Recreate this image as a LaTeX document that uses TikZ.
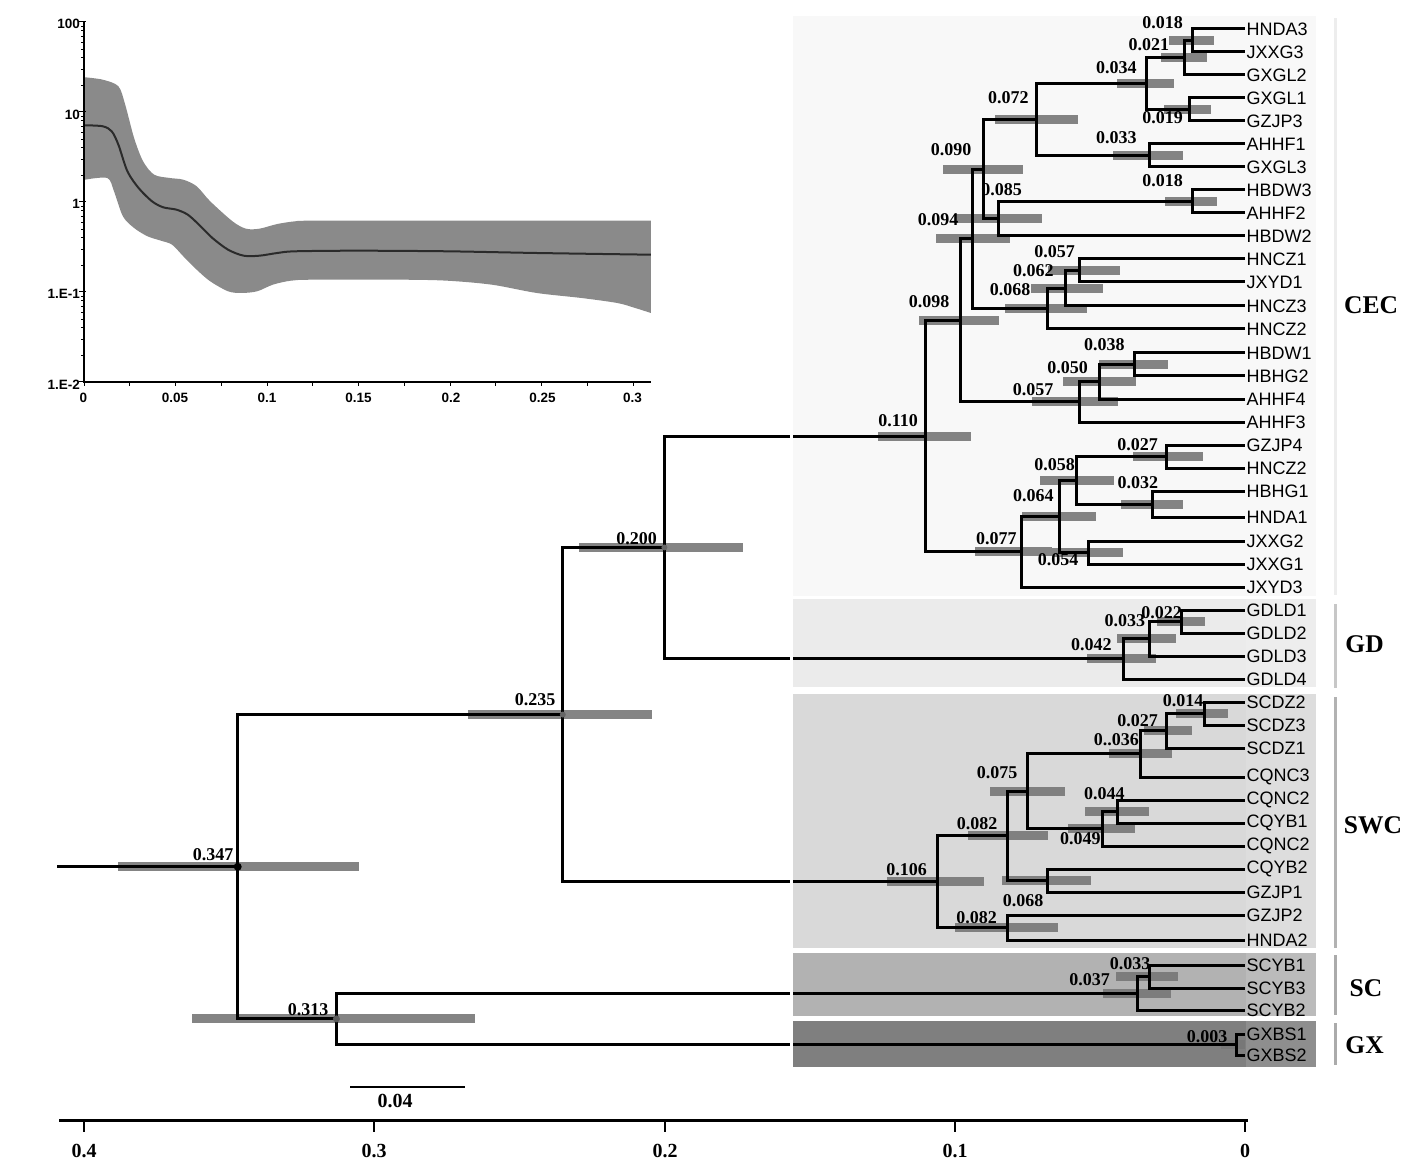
\documentclass[tikz,border=0pt]{standalone}
\usepackage{fontspec}
\setmainfont{Liberation Serif}
\newfontfamily\arialf{Liberation Sans}
\usetikzlibrary{calc}
\definecolor{hpdc}{HTML}{777777}
\definecolor{cecc}{HTML}{F8F8F8}
\definecolor{gdc}{HTML}{EBEBEB}
\definecolor{swcc}{HTML}{D9D9D9}
\definecolor{scc}{HTML}{B2B2B2}
\definecolor{gxc}{HTML}{7F7F7F}
\definecolor{bandc}{HTML}{8A8A8A}
\definecolor{medc}{HTML}{2B2B2B}
\newcommand\brc[2]{\draw[br] (#1) |- (#2);}
\newcommand\hpdbar[3]{\draw[hpd] (#2,0 |- #1) -- (#3,0 |- #1);}
\begin{document}
\begin{tikzpicture}[x=1pt,y=-1pt,
  br/.style={line width=3pt},
  hpd/.style={draw=hpdc, line width=9pt, draw opacity=0.9},
  leaf/.style={anchor=west, inner sep=1.5pt, font=\arialf\fontsize{18}{18}\selectfont},
  age/.style={inner sep=0pt, font=\bfseries\fontsize{18}{18}\selectfont},
  clade/.style={inner sep=0pt, font=\bfseries\fontsize{25.5}{25.5}\selectfont},
  axl/.style={inner sep=0pt, font=\bfseries\fontsize{20}{20}\selectfont},
  inl/.style={inner sep=0pt, font=\arialf\bfseries\fontsize{13.5}{13.5}\selectfont},
  bracket/.style={line width=3pt}
]
\useasboundingbox (0,0) rectangle (1417,1174);

% ---------- clade background boxes ----------
\fill[cecc] (793,16) rectangle (1316,596);
\fill[gdc] (793,599) rectangle (1316,687);
\fill[swcc] (793,694) rectangle (1316,948);
\fill[scc] (793,953) rectangle (1316,1016);
\fill[gxc] (793,1021) rectangle (1316,1067);
\fill[white, opacity=0.12] (1246,16) rectangle (1316,1067);

% ---------- clade brackets ----------
\draw[bracket, draw=black!7] (1335,18) -- (1335,595);
\draw[bracket, draw=black!22] (1335,604) -- (1335,688);
\draw[bracket, draw=black!30] (1335,697) -- (1335,948);
\draw[bracket, draw=black!33] (1335,955) -- (1335,1015);
\draw[bracket, draw=black!33] (1335,1023) -- (1335,1065);

% ---------- inset skyline plot ----------
\fill[bandc] plot[smooth, tension=0.5] coordinates {(85,77.3) (102.8,79.7) (118.4,86.3) (125.2,104.7) (134.1,138) (143.1,161.3) (154.2,174.7) (169.9,178) (183.3,179.7) (196.7,186.3) (210.2,201.3) (232.5,221.3) (246,228.7) (259.4,228.7) (277.3,224) (295.2,221.3) (313.1,220.7) (447.3,220.7) (650.9,220.7)}
 -- plot[smooth, tension=0.5] coordinates {(650.9,313) (635.2,308) (617.3,303) (581.5,298) (536.8,293) (492,284.7) (447.3,280.7) (402.5,279.7) (313.1,279.7) (290.7,280.7) (272.8,284.7) (257.1,291.3) (241.5,293) (228.1,291.3) (210.2,281.3) (196.7,269.7) (183.3,256.3) (172.1,244.7) (161,240.7) (147.5,236.3) (134.1,228) (122.9,216.3) (114,191.3) (107.3,178) (85,179.7)} -- cycle;
\draw[medc, line width=2pt] plot[smooth, tension=0.5] coordinates {(85,125.3) (102.8,126.3) (111.7,131.3) (118.4,144.7) (127.4,171.3) (138.6,188) (152,201.3) (163.2,207.3) (176.6,209.7) (187.8,214.7) (199,224.7) (212.4,238) (228.1,249.7) (243.7,255.7) (259.4,255.7) (277.3,253) (295.2,251.3) (357.8,250.7) (447.3,251.3) (536.8,253) (650.9,254.7)};
\coordinate (iy0) at (84,382);
\coordinate (iy1) at (84,22);
\coordinate (ix1) at (651,382);
\draw[line width=1.5pt] (iy1) -- (iy0) -- (ix1);
\foreach \d in {0,1,2,3} {
  \foreach \m in {2,...,9} {
    \pgfmathsetmacro\yy{382-90*(\d+log10(\m))}
    \draw[line width=0.8pt] (81,\yy) -- (84,\yy);
  }
}
\foreach \d in {0,1,2,3,4} {
  \pgfmathsetmacro\yy{382-90*\d}
  \draw[line width=1pt] (79,\yy) -- (86,\yy);
}
\foreach \i in {0,...,12} {
  \pgfmathsetmacro\xx{84+45.75*\i}
  \draw[line width=1pt] (\xx,382) -- (\xx,386);
}
\node[inl, anchor=east] (iyl100) at (80,24) {100};
\node[inl, anchor=east] (iyl10) at (80,115) {10};
\node[inl, anchor=east] (iyl1) at (80,204) {1};
\node[inl, anchor=east] (iylm1) at (80,294) {1.E-1};
\node[inl, anchor=east] (iylm2) at (80,385) {1.E-2};
\node[inl] (ixl0) at (83.5,398) {0};
\node[inl] (ixl1) at (175,398) {0.05};
\node[inl] (ixl2) at (267,398) {0.1};
\node[inl] (ixl3) at (358.5,398) {0.15};
\node[inl] (ixl4) at (451,398) {0.2};
\node[inl] (ixl5) at (542.4,398) {0.25};
\node[inl] (ixl6) at (632.6,398) {0.3};

% ---------- internal node coordinates (x = 1245 - 2903*age) ----------
\coordinate (n018a) at (1192.7,40.5);
\coordinate (n021) at (1184.0,57.75);
\coordinate (n019) at (1189.8,109.5);
\coordinate (n034) at (1146.3,83.63);
\coordinate (n033a) at (1149.2,155.5);
\coordinate (n072) at (1036.0,119.56);
\coordinate (n018b) at (1192.7,201.5);
\coordinate (n085) at (998.2,218.75);
\coordinate (n090) at (983.7,169.16);
\coordinate (n057a) at (1079.5,270.5);
\coordinate (n062) at (1065.0,288.25);
\coordinate (n068a) at (1047.6,308.63);
\coordinate (n094) at (972.1,238.9);
\coordinate (n038) at (1134.7,364.5);
\coordinate (n050) at (1099.9,381.75);
\coordinate (n057b) at (1079.5,401.88);
\coordinate (n098) at (960.5,320.39);
\coordinate (n027a) at (1166.6,456.5);
\coordinate (n032) at (1152.1,504);
\coordinate (n058) at (1076.6,480.25);
\coordinate (n054) at (1088.2,552.5);
\coordinate (n064) at (1059.2,516.38);
\coordinate (n077) at (1021.5,551.69);
\coordinate (n110) at (925.7,436.04);
\coordinate (n022) at (1181.1,621.5);
\coordinate (n033b) at (1149.2,638.75);
\coordinate (n042) at (1123.1,658.88);
\coordinate (n200) at (664.4,547.46);
\coordinate (n014) at (1204.4,713.5);
\coordinate (n027b) at (1166.6,730.75);
\coordinate (n036) at (1140.5,753.88);
\coordinate (n044) at (1117.3,811.5);
\coordinate (n049) at (1102.8,828.75);
\coordinate (n075) at (1027.3,791.31);
\coordinate (n068b) at (1047.6,880.5);
\coordinate (n082a) at (1007.0,835.9);
\coordinate (n082b) at (1007.0,927.5);
\coordinate (n106) at (937.3,881.7);
\coordinate (n235) at (562.8,714.58);
\coordinate (n033c) at (1149.2,976.5);
\coordinate (n037) at (1137.6,993.25);
\coordinate (n003) at (1236.3,1044.5);
\coordinate (n313) at (336.4,1018.88);
\coordinate (n347) at (237.7,866.73);
\coordinate (root) at (57,866.73);

% ---------- HPD bars ----------
\hpdbar{n347}{118}{359}
\hpdbar{n313}{192}{475}
\hpdbar{n235}{468}{652}
\hpdbar{n200}{579}{743}
\hpdbar{n110}{878}{971}
\hpdbar{n098}{919}{999}
\hpdbar{n094}{936}{1010}
\hpdbar{n090}{943}{1023}
\hpdbar{n085}{954}{1042}
\hpdbar{n072}{995}{1078}
\hpdbar{n034}{1117}{1174}
\hpdbar{n021}{1161}{1207}
\hpdbar{n018a}{1169}{1214}
\hpdbar{n019}{1164}{1211}
\hpdbar{n033a}{1113}{1183}
\hpdbar{n018b}{1165}{1217}
\hpdbar{n068a}{1005}{1087}
\hpdbar{n062}{1031}{1103}
\hpdbar{n057a}{1048}{1120}
\hpdbar{n057b}{1032}{1118}
\hpdbar{n050}{1063}{1136}
\hpdbar{n038}{1099}{1168}
\hpdbar{n077}{975}{1052}
\hpdbar{n064}{1022}{1096}
\hpdbar{n058}{1040}{1114}
\hpdbar{n027a}{1133}{1203}
\hpdbar{n032}{1121}{1183}
\hpdbar{n054}{1052}{1123}
\hpdbar{n042}{1087}{1156}
\hpdbar{n033b}{1117}{1176}
\hpdbar{n022}{1157}{1205}
\hpdbar{n106}{887}{984}
\hpdbar{n082a}{968}{1048}
\hpdbar{n082b}{955}{1058}
\hpdbar{n075}{990}{1065}
\hpdbar{n068b}{1002}{1091}
\hpdbar{n036}{1109}{1172}
\hpdbar{n027b}{1144}{1192}
\hpdbar{n014}{1176}{1228}
\hpdbar{n044}{1085}{1149}
\hpdbar{n049}{1068}{1135}
\hpdbar{n037}{1103}{1171}
\hpdbar{n033c}{1116}{1178}
\hpdbar{n003}{1221}{1245}

% ---------- leaves ----------
\node[leaf] (HNDA3) at (1245,29) {HNDA3};
\node[leaf] (JXXG3) at (1245,52) {JXXG3};
\node[leaf] (GXGL2) at (1245,75) {GXGL2};
\node[leaf] (GXGL1) at (1245,98) {GXGL1};
\node[leaf] (GZJP3) at (1245,121) {GZJP3};
\node[leaf] (AHHF1) at (1245,144) {AHHF1};
\node[leaf] (GXGL3) at (1245,167) {GXGL3};
\node[leaf] (HBDW3) at (1245,190) {HBDW3};
\node[leaf] (AHHF2) at (1245,213) {AHHF2};
\node[leaf] (HBDW2) at (1245,236) {HBDW2};
\node[leaf] (HNCZ1) at (1245,259) {HNCZ1};
\node[leaf] (JXYD1) at (1245,282) {JXYD1};
\node[leaf] (HNCZ3) at (1245,306) {HNCZ3};
\node[leaf] (HNCZ2a) at (1245,329) {HNCZ2};
\node[leaf] (HBDW1) at (1245,353) {HBDW1};
\node[leaf] (HBHG2) at (1245,376) {HBHG2};
\node[leaf] (AHHF4) at (1245,399) {AHHF4};
\node[leaf] (AHHF3) at (1245,422) {AHHF3};
\node[leaf] (GZJP4) at (1245,445) {GZJP4};
\node[leaf] (HNCZ2b) at (1245,468) {HNCZ2};
\node[leaf] (HBHG1) at (1245,491) {HBHG1};
\node[leaf] (HNDA1) at (1245,517) {HNDA1};
\node[leaf] (JXXG2) at (1245,541) {JXXG2};
\node[leaf] (JXXG1) at (1245,564) {JXXG1};
\node[leaf] (JXYD3) at (1245,587) {JXYD3};
\node[leaf] (GDLD1) at (1245,610) {GDLD1};
\node[leaf] (GDLD2) at (1245,633) {GDLD2};
\node[leaf] (GDLD3) at (1245,656) {GDLD3};
\node[leaf] (GDLD4) at (1245,679) {GDLD4};
\node[leaf] (SCDZ2) at (1245,702) {SCDZ2};
\node[leaf] (SCDZ3) at (1245,725) {SCDZ3};
\node[leaf] (SCDZ1) at (1245,748) {SCDZ1};
\node[leaf] (CQNC3) at (1245,777) {CQNC3};
\node[leaf] (CQNC2a) at (1245,800) {CQNC2};
\node[leaf] (CQYB1) at (1245,823) {CQYB1};
\node[leaf] (CQNC2b) at (1245,846) {CQNC2};
\node[leaf] (CQYB2) at (1245,869) {CQYB2};
\node[leaf] (GZJP1) at (1245,892) {GZJP1};
\node[leaf] (GZJP2) at (1245,915) {GZJP2};
\node[leaf] (HNDA2) at (1245,940) {HNDA2};
\node[leaf] (SCYB1) at (1245,965) {SCYB1};
\node[leaf] (SCYB3) at (1245,988) {SCYB3};
\node[leaf] (SCYB2) at (1245,1010) {SCYB2};
\node[leaf] (GXBS1) at (1245,1034) {GXBS1};
\node[leaf] (GXBS2) at (1245,1055) {GXBS2};

% ---------- branches ----------
\brc{n018a}{HNDA3.west} \brc{n018a}{JXXG3.west}
\brc{n021}{n018a} \brc{n021}{GXGL2.west}
\brc{n019}{GXGL1.west} \brc{n019}{GZJP3.west}
\brc{n034}{n021} \brc{n034}{n019}
\brc{n033a}{AHHF1.west} \brc{n033a}{GXGL3.west}
\brc{n072}{n034} \brc{n072}{n033a}
\brc{n018b}{HBDW3.west} \brc{n018b}{AHHF2.west}
\brc{n085}{n018b} \brc{n085}{HBDW2.west}
\brc{n090}{n072} \brc{n090}{n085}
\brc{n057a}{HNCZ1.west} \brc{n057a}{JXYD1.west}
\brc{n062}{n057a} \brc{n062}{HNCZ3.west}
\brc{n068a}{n062} \brc{n068a}{HNCZ2a.west}
\brc{n094}{n090} \brc{n094}{n068a}
\brc{n038}{HBDW1.west} \brc{n038}{HBHG2.west}
\brc{n050}{n038} \brc{n050}{AHHF4.west}
\brc{n057b}{n050} \brc{n057b}{AHHF3.west}
\brc{n098}{n094} \brc{n098}{n057b}
\brc{n027a}{GZJP4.west} \brc{n027a}{HNCZ2b.west}
\brc{n032}{HBHG1.west} \brc{n032}{HNDA1.west}
\brc{n058}{n027a} \brc{n058}{n032}
\brc{n054}{JXXG2.west} \brc{n054}{JXXG1.west}
\brc{n064}{n058} \brc{n064}{n054}
\brc{n077}{n064} \brc{n077}{JXYD3.west}
\brc{n110}{n098} \brc{n110}{n077}
\brc{n022}{GDLD1.west} \brc{n022}{GDLD2.west}
\brc{n033b}{n022} \brc{n033b}{GDLD3.west}
\brc{n042}{n033b} \brc{n042}{GDLD4.west}
\brc{n200}{n110} \brc{n200}{n042}
\brc{n014}{SCDZ2.west} \brc{n014}{SCDZ3.west}
\brc{n027b}{n014} \brc{n027b}{SCDZ1.west}
\brc{n036}{n027b} \brc{n036}{CQNC3.west}
\brc{n044}{CQNC2a.west} \brc{n044}{CQYB1.west}
\brc{n049}{n044} \brc{n049}{CQNC2b.west}
\brc{n075}{n036} \brc{n075}{n049}
\brc{n068b}{CQYB2.west} \brc{n068b}{GZJP1.west}
\brc{n082a}{n075} \brc{n082a}{n068b}
\brc{n082b}{GZJP2.west} \brc{n082b}{HNDA2.west}
\brc{n106}{n082a} \brc{n106}{n082b}
\brc{n235}{n200} \brc{n235}{n106}
\brc{n033c}{SCYB1.west} \brc{n033c}{SCYB3.west}
\brc{n037}{n033c} \brc{n037}{SCYB2.west}
\brc{n003}{GXBS1.west} \brc{n003}{GXBS2.west}
\brc{n313}{n037} \brc{n313}{n003}
\brc{n347}{n235} \brc{n347}{n313}
\draw[br] (root) -- (n347);
\fill[black] (n347) circle (4pt);
\fill[black!65] (n313) circle (3.5pt);
\fill[black!60] (n235) circle (3pt);
\fill[black!60] (n200) circle (3pt);

% white seam at the left edge of the clade boxes
\draw[white, line width=2.5pt] (791.5,16) -- (791.5,1068);

% ---------- node age labels ----------
\node[age] (l018a) at (1162.5,22.7) {0.018};
\node[age] (l021) at (1148.8,44.3) {0.021};
\node[age] (l034) at (1116.3,67.7) {0.034};
\node[age] (l019) at (1162.5,117.3) {0.019};
\node[age] (l072) at (1008.4,97.7) {0.072};
\node[age] (l033a) at (1116.3,137.3) {0.033};
\node[age] (l090) at (951.2,150) {0.090};
\node[age] (l018b) at (1162.5,180.7) {0.018};
\node[age] (l085) at (1001.6,189.3) {0.085};
\node[age] (l094) at (938.2,219.3) {0.094};
\node[age] (l057a) at (1054.7,251.7) {0.057};
\node[age] (l062) at (1033.4,270.7) {0.062};
\node[age] (l068a) at (1010.1,289.3) {0.068};
\node[age] (l098) at (929,301.7) {0.098};
\node[age] (l038) at (1104.3,344.3) {0.038};
\node[age] (l050) at (1067.7,367.3) {0.050};
\node[age] (l057b) at (1033,389.3) {0.057};
\node[age] (l110) at (898,421) {0.110};
\node[age] (l027a) at (1137.5,445) {0.027};
\node[age] (l058) at (1054.7,464.3) {0.058};
\node[age] (l032) at (1137.9,482.7) {0.032};
\node[age] (l064) at (1033.4,496) {0.064};
\node[age] (l077) at (996.4,539) {0.077};
\node[age] (l054) at (1058,560) {0.054};
\node[age] (l022) at (1161.5,612.7) {0.022};
\node[age] (l033b) at (1124.9,621) {0.033};
\node[age] (l042) at (1091.3,644.3) {0.042};
\node[age] (l200) at (636.7,538.3) {0.200};
\node[age] (l235) at (535,700) {0.235};
\node[age] (l014) at (1183,700.7) {0.014};
\node[age] (l027b) at (1137.5,720.7) {0.027};
\node[age] (l036) at (1116.3,740) {0..036};
\node[age] (l075) at (997,772.7) {0.075};
\node[age] (l044) at (1104.3,793.3) {0.044};
\node[age] (l082a) at (977,824) {0.082};
\node[age] (l049) at (1080.3,839) {0.049};
\node[age] (l106) at (906.7,869.3) {0.106};
\node[age] (l068b) at (1023,901) {0.068};
\node[age] (l082b) at (976.6,917.3) {0.082};
\node[age] (l033c) at (1130,964) {0.033};
\node[age] (l037) at (1089.6,979.3) {0.037};
\node[age] (l003) at (1207,1036.7) {0.003};
\node[age] (l347) at (213,855) {0.347};
\node[age] (l313) at (308,1010) {0.313};

% ---------- clade labels ----------
\node[clade] (cCEC) at (1371,305) {CEC};
\node[clade] (cGD) at (1364.6,644) {GD};
\node[clade] (cSWC) at (1373,825) {SWC};
\node[clade] (cSC) at (1366,988) {SC};
\node[clade] (cGX) at (1364.6,1045) {GX};

% ---------- scale bar ----------
\coordinate (sb0) at (350,1087);
\coordinate (sb1) at (465,1087);
\draw[line width=2.5pt] (sb0) -- (sb1);
\node[axl] (sbl) at (395,1101) {0.04};

% ---------- time axis ----------
\coordinate (ax0) at (59,1120);
\coordinate (ax1) at (1248,1120);
\draw[line width=3pt] (ax0) -- (ax1);
\foreach \xx/\lab in {84/0.4, 374/0.3, 665/0.2, 955/0.1, 1245/0} {
  \draw[line width=2pt] (\xx,1120) -- (\xx,1132);
  \node[axl] at (\xx,1151) {\lab};
}
\end{tikzpicture}
\end{document}
